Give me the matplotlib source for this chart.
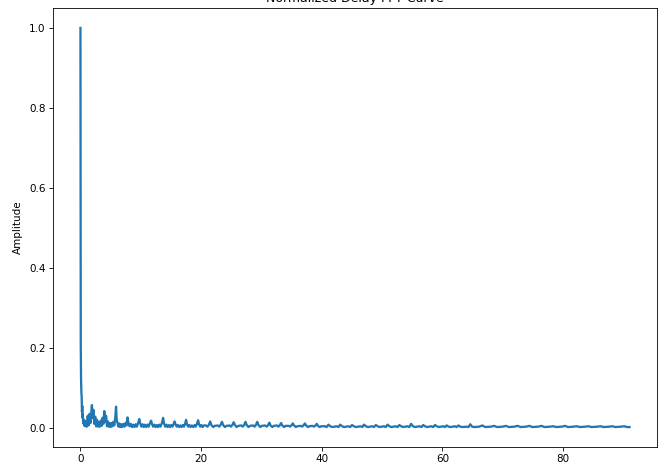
import matplotlib
matplotlib.use("Agg")
import matplotlib.pyplot as plt

# Frequency axis (x) and normalized amplitude (y)
freq_head = [0.00, 0.03, 0.05, 0.08, 0.10, 0.13, 0.16, 0.20, 0.25, 0.30, 0.35, 0.40,
             0.45, 0.50, 0.60, 0.70, 0.80, 0.90, 1.00]
amp_head = [1.000, 0.290, 0.210, 0.130, 0.120, 0.095, 0.085, 0.080, 0.040, 0.055, 0.025, 0.035,
            0.012, 0.020, 0.006, 0.018, 0.004, 0.015, 0.008]

freq_early = [1.05, 1.20, 1.35, 1.50, 1.65, 1.80, 1.90, 2.00, 2.15, 2.30, 2.45, 2.60, 2.75, 2.90,
              3.05, 3.20, 3.35, 3.50, 3.65, 3.80, 3.95, 4.10, 4.25, 4.40, 4.55, 4.70, 4.85,
              5.00, 5.15, 5.30, 5.45, 5.60, 5.75, 5.90, 6.00, 6.15, 6.30, 6.45, 6.60, 6.75,
              6.90, 7.10, 7.30, 7.50, 7.65, 7.80, 7.95, 8.15, 8.35, 8.55, 8.75,
              8.95, 9.15, 9.35, 9.55, 9.75, 9.90, 10.10, 10.30, 10.50, 10.70,
              10.90, 11.10, 11.30, 11.50, 11.70, 11.85, 12.05, 12.25, 12.45, 12.65,
              12.85, 13.05, 13.25, 13.50, 13.70, 13.85, 14.05, 14.25, 14.45, 14.65,
              14.85, 15.05, 15.25, 15.45, 15.60, 15.75, 15.95, 16.15, 16.35, 16.55,
              16.75, 16.95, 17.15, 17.35, 17.50, 17.65, 17.85, 18.05, 18.25, 18.45,
              18.70, 18.90, 19.10, 19.30, 19.50, 19.65, 19.85, 20.05, 20.25, 20.45]
amp_early = [0.003, 0.030, 0.006, 0.035, 0.012, 0.040, 0.057, 0.025, 0.045, 0.010, 0.028, 0.004, 0.020, 0.003,
             0.014, 0.003, 0.018, 0.005, 0.025, 0.010, 0.042, 0.015, 0.030, 0.004, 0.016, 0.003, 0.012,
             0.002, 0.012, 0.004, 0.015, 0.006, 0.022, 0.053, 0.020, 0.012, 0.003, 0.011, 0.002, 0.009,
             0.002, 0.010, 0.003, 0.013, 0.006, 0.026, 0.012, 0.004, 0.010, 0.002, 0.008,
             0.002, 0.009, 0.003, 0.012, 0.022, 0.011, 0.003, 0.009, 0.002, 0.008,
             0.002, 0.008, 0.003, 0.011, 0.018, 0.010, 0.003, 0.008, 0.002, 0.007,
             0.002, 0.008, 0.003, 0.012, 0.025, 0.011, 0.003, 0.008, 0.002, 0.007,
             0.002, 0.007, 0.003, 0.010, 0.016, 0.009, 0.003, 0.007, 0.002, 0.006,
             0.002, 0.007, 0.003, 0.010, 0.020, 0.009, 0.003, 0.007, 0.002, 0.006,
             0.002, 0.007, 0.003, 0.010, 0.019, 0.009, 0.003, 0.007, 0.002, 0.006]

freq_mid = [20.80, 21.05, 21.30, 21.50, 21.70, 22.00, 22.25,
            22.75, 23.00, 23.25, 23.45, 23.65, 23.95, 24.20,
            24.70, 24.95, 25.20, 25.40, 25.60, 25.90, 26.15,
            26.65, 26.90, 27.15, 27.35, 27.55, 27.85, 28.10,
            28.60, 28.85, 29.10, 29.30, 29.50, 29.80, 30.05,
            30.60, 30.85, 31.10, 31.30, 31.50, 31.80, 32.05,
            32.55, 32.80, 33.05, 33.25, 33.45, 33.75, 34.00,
            34.50, 34.75, 35.00, 35.20, 35.40, 35.70, 35.95,
            36.50, 36.75, 37.00, 37.20, 37.40, 37.70, 37.95,
            38.45, 38.70, 38.95, 39.15, 39.35, 39.65, 39.90]
amp_mid = [0.006, 0.003, 0.008, 0.016, 0.007, 0.002, 0.005,
           0.006, 0.003, 0.008, 0.015, 0.007, 0.002, 0.005,
           0.006, 0.003, 0.008, 0.014, 0.007, 0.002, 0.005,
           0.006, 0.003, 0.008, 0.015, 0.007, 0.002, 0.005,
           0.006, 0.003, 0.008, 0.015, 0.007, 0.002, 0.005,
           0.006, 0.003, 0.007, 0.013, 0.006, 0.002, 0.005,
           0.006, 0.003, 0.007, 0.012, 0.006, 0.002, 0.005,
           0.005, 0.003, 0.007, 0.011, 0.006, 0.002, 0.004,
           0.005, 0.003, 0.007, 0.011, 0.006, 0.002, 0.004,
           0.005, 0.003, 0.006, 0.010, 0.005, 0.002, 0.004]

freq_late = [40.50, 40.80, 41.10, 41.40, 41.75, 42.45, 42.75, 43.05, 43.35, 43.70,
             44.40, 44.70, 45.00, 45.30, 45.65, 46.40, 46.70, 47.00, 47.30, 47.65,
             48.35, 48.65, 48.95, 49.25, 49.60, 50.30, 50.60, 50.90, 51.20, 51.55,
             52.25, 52.55, 52.85, 53.15, 53.50, 54.20, 54.50, 54.80, 55.10, 55.45,
             56.20, 56.50, 56.80, 57.10, 57.45, 58.15, 58.45, 58.75, 59.05, 59.40,
             60.10, 60.40, 60.70, 61.00, 61.35, 62.05, 62.35, 62.65, 62.95, 63.30,
             64.00, 64.30, 64.60, 64.90, 65.25]
amp_late = [0.004, 0.002, 0.008, 0.004, 0.002, 0.004, 0.002, 0.008, 0.004, 0.002,
            0.004, 0.002, 0.007, 0.004, 0.002, 0.004, 0.002, 0.008, 0.004, 0.002,
            0.004, 0.002, 0.007, 0.004, 0.002, 0.004, 0.002, 0.008, 0.004, 0.002,
            0.004, 0.002, 0.007, 0.004, 0.002, 0.004, 0.002, 0.010, 0.004, 0.002,
            0.004, 0.002, 0.007, 0.004, 0.002, 0.004, 0.002, 0.007, 0.004, 0.002,
            0.004, 0.002, 0.006, 0.003, 0.002, 0.004, 0.002, 0.006, 0.003, 0.002,
            0.003, 0.002, 0.009, 0.003, 0.002]

freq_tail = [66.10, 66.60, 67.10, 68.05, 68.55, 69.05, 70.00, 70.50, 71.00, 71.95, 72.45, 72.95,
             73.90, 74.40, 74.90, 75.90, 76.40, 76.90, 77.85, 78.35, 78.85, 79.80, 80.30, 80.80,
             81.75, 82.25, 82.75, 83.70, 84.20, 84.70, 85.70, 86.20, 86.70, 87.65, 88.15, 88.65,
             89.60, 90.10, 90.60, 91.00]
amp_tail = [0.003, 0.006, 0.002, 0.003, 0.005, 0.002, 0.003, 0.005, 0.002, 0.003, 0.005, 0.002,
            0.003, 0.005, 0.002, 0.003, 0.005, 0.002, 0.003, 0.004, 0.002, 0.003, 0.005, 0.002,
            0.003, 0.004, 0.002, 0.003, 0.004, 0.002, 0.003, 0.004, 0.002, 0.003, 0.004, 0.002,
            0.003, 0.004, 0.002, 0.002]

freq = freq_head + freq_early + freq_mid + freq_late + freq_tail
amp = amp_head + amp_early + amp_mid + amp_late + amp_tail

DPI = 75
fig = plt.figure(figsize=(658 / DPI, 467 / DPI), dpi=DPI)
ax = fig.add_axes([53 / 658, 20 / 467, 604 / 658, 439 / 467])
ax.plot(freq, amp, color="#1f77b4", linewidth=2.2)
ax.set_title("Normalized Delay FFT Curve")
ax.set_ylabel("Amplitude", labelpad=6)
fig.savefig("out.png", dpi=DPI)
